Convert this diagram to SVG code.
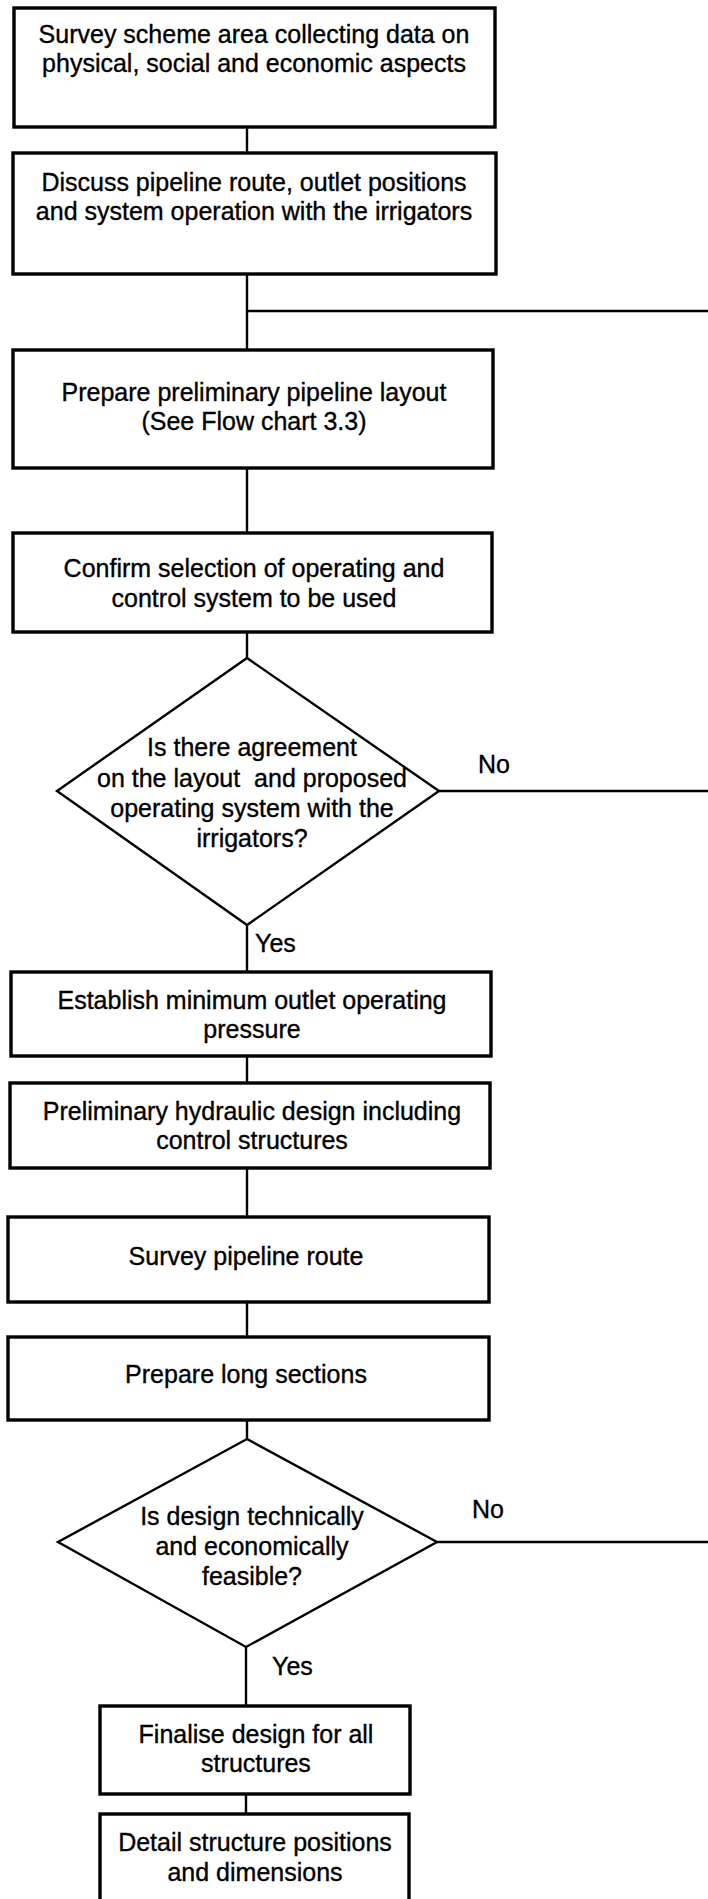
<svg xmlns="http://www.w3.org/2000/svg" width="708" height="1899" viewBox="0 0 708 1899">
  <style>
    .box { fill: #ffffff; stroke: #000000; stroke-width: 3.4; }
    .dia { fill: #ffffff; stroke: #000000; stroke-width: 2.4; }
    .wire { fill: none; stroke: #000000; stroke-width: 2.4; }
    text { font-family: "Liberation Sans", Arial, Helvetica, sans-serif; font-size: 25px; fill: #000000; stroke: #000000; stroke-width: 0.35; }
    .c { text-anchor: middle; }
  </style>
  <rect x="0" y="0" width="708" height="1899" fill="#ffffff"/>

  <!-- connectors and their branch labels -->
  <g id="connectors">
    <line class="wire" x1="247" y1="127" x2="247" y2="153"/>
    <line class="wire" x1="247" y1="274" x2="247" y2="350"/>
    <line class="wire" x1="247" y1="311" x2="708" y2="311"/>
    <line class="wire" x1="247" y1="468" x2="247" y2="533"/>
    <line class="wire" x1="247" y1="632" x2="247" y2="658"/>
    <line class="wire" x1="439" y1="791" x2="708" y2="791"/>
    <line class="wire" x1="247" y1="925" x2="247" y2="972"/>
    <line class="wire" x1="247" y1="1056" x2="247" y2="1083"/>
    <line class="wire" x1="247" y1="1168" x2="247" y2="1217"/>
    <line class="wire" x1="247" y1="1302" x2="247" y2="1337"/>
    <line class="wire" x1="247" y1="1420" x2="247" y2="1439"/>
    <line class="wire" x1="437" y1="1542" x2="708" y2="1542"/>
    <line class="wire" x1="246" y1="1647" x2="246" y2="1706"/>
    <line class="wire" x1="246" y1="1794" x2="246" y2="1814"/>
    <text x="478" y="773">No</text>
    <text x="255" y="952">Yes</text>
    <text x="472" y="1518">No</text>
    <text x="272" y="1675">Yes</text>
  </g>

  <g id="survey-scheme">
    <rect class="box" x="14" y="8" width="481" height="119"/>
    <text class="c" x="254" y="43">Survey scheme area collecting data on</text>
    <text class="c" x="254" y="72">physical, social and economic aspects</text>
  </g>

  <g id="discuss-route">
    <rect class="box" x="13" y="153" width="483" height="121"/>
    <text class="c" x="254" y="191">Discuss pipeline route, outlet positions</text>
    <text class="c" x="254" y="220">and system operation with the irrigators</text>
  </g>

  <g id="preliminary-layout">
    <rect class="box" x="13" y="350" width="480" height="118"/>
    <text class="c" x="254" y="401">Prepare preliminary pipeline layout</text>
    <text class="c" x="254" y="430">(See Flow chart 3.3)</text>
  </g>

  <g id="confirm-system">
    <rect class="box" x="13" y="533" width="479" height="99"/>
    <text class="c" x="254" y="577">Confirm selection of operating and</text>
    <text class="c" x="254" y="607">control system to be used</text>
  </g>

  <g id="agreement-decision">
    <polygon class="dia" points="247,658 439,791 247,925 57,791"/>
    <text class="c" x="252" y="756">Is there agreement</text>
    <text class="c" x="252" y="787" xml:space="preserve">on the layout  and proposed</text>
    <text class="c" x="252" y="817">operating system with the</text>
    <text class="c" x="252" y="847">irrigators?</text>
  </g>

  <g id="outlet-pressure">
    <rect class="box" x="11" y="972" width="480" height="84"/>
    <text class="c" x="252" y="1009">Establish minimum outlet operating</text>
    <text class="c" x="252" y="1038">pressure</text>
  </g>

  <g id="hydraulic-design">
    <rect class="box" x="10" y="1083" width="480" height="85"/>
    <text class="c" x="252" y="1120">Preliminary hydraulic design including</text>
    <text class="c" x="252" y="1149">control structures</text>
  </g>

  <g id="survey-route">
    <rect class="box" x="8" y="1217" width="481" height="85"/>
    <text class="c" x="246" y="1265">Survey pipeline route</text>
  </g>

  <g id="long-sections">
    <rect class="box" x="8" y="1337" width="481" height="83"/>
    <text class="c" x="246" y="1383">Prepare long sections</text>
  </g>

  <g id="feasibility-decision">
    <polygon class="dia" points="247,1439 437,1542 246,1647 58,1542"/>
    <text class="c" x="252" y="1525">Is design technically</text>
    <text class="c" x="252" y="1555">and economically</text>
    <text class="c" x="252" y="1585">feasible?</text>
  </g>

  <g id="finalise-design">
    <rect class="box" x="100" y="1706" width="310" height="88"/>
    <text class="c" x="256" y="1743">Finalise design for all</text>
    <text class="c" x="256" y="1772">structures</text>
  </g>

  <g id="detail-structures">
    <rect class="box" x="100" y="1814" width="309" height="95"/>
    <text class="c" x="255" y="1851">Detail structure positions</text>
    <text class="c" x="255" y="1881">and dimensions</text>
  </g>
</svg>
